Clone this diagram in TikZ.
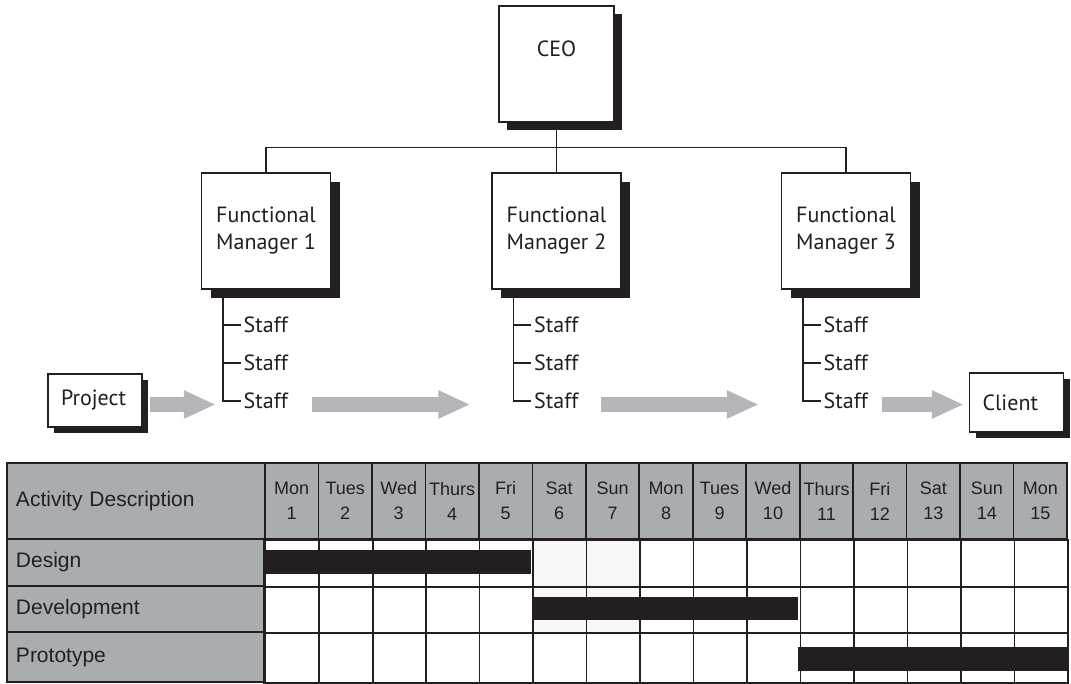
\documentclass[tikz,border=0pt]{standalone}
\usepackage{fontspec}
\setmainfont{PT Sans}
\newfontfamily\tablefont{Liberation Sans}
\usetikzlibrary{arrows.meta,shadows}

\definecolor{inkblack}{RGB}{35,31,32}
\definecolor{headgray}{RGB}{170,173,176}
\definecolor{arrowgray}{RGB}{180,182,185}
\definecolor{weekendfill}{RGB}{247,247,247}

\tikzset{
  boxbase/.style={draw=inkblack, line width=1.2pt, fill=white, text=inkblack,
    inner sep=0pt, font=\fontsize{22pt}{27pt}\selectfont},
  orgbox/.style={boxbase, align=center, minimum width=129pt, minimum height=116pt,
    drop shadow={shadow xshift=#1, shadow yshift=-#1, fill=inkblack, opacity=1}},
  orgbox/.default=9pt,
  endbox/.style={boxbase, text width=68pt, inner xsep=13pt, align=left,
    drop shadow={shadow xshift=6pt, shadow yshift=-6pt, fill=inkblack, opacity=1}},
  staff/.style={anchor=west, inner xsep=3pt, inner ysep=0pt, text=inkblack,
    font=\fontsize{22pt}{25pt}\selectfont},
  orgline/.style={draw=inkblack, line width=1.2pt},
  bigarrow/.style={draw=arrowgray, line width=14.5pt,
    -{Triangle[length=32pt, width=26pt]}},
  headcell/.style={draw=inkblack, line width=1.6pt, fill=headgray, text=inkblack,
    inner sep=0pt},
  rowcell/.style={headcell, minimum width=258pt, text width=240pt, align=left,
    font=\tablefont\fontsize{21pt}{24pt}\selectfont},
  daycell/.style={headcell, minimum width=53.47pt, minimum height=76pt, align=center,
    font=\tablefont\fontsize{18pt}{25pt}\selectfont},
  gridline/.style={draw=inkblack, line width=1.6pt},
  bar/.style={fill=inkblack}
}

\begin{document}
\begin{tikzpicture}[x=1pt,y=-1pt]
\path[use as bounding box, fill=white] (0,0) rectangle (1071,684);

\node[orgbox=8pt, minimum width=115pt, text height=15pt, text depth=29pt] (ceo) at (556.5,64) {CEO};
\node[orgbox] (fm1) at (266,231) {Functional\\Manager 1};
\node[orgbox] (fm2) at (556.5,231) {Functional\\Manager 2};
\node[orgbox] (fm3) at (846,231) {Functional\\Manager 3};

\draw[orgline] (ceo.south) -- (fm2.north);
\draw[orgline] (fm1.north) -- ++(0,-25) -| (fm3.north);

\coordinate (t1) at ([xshift=22pt]fm1.south west);
\coordinate (t2) at ([xshift=22pt]fm2.south west);
\coordinate (t3) at ([xshift=22pt]fm3.south west);
\coordinate (lane) at (0,404.5);

\node[staff] (s11) at (240.5,325) {Staff};
\node[staff] (s12) at (240.5,363) {Staff};
\node[staff] (s13) at (240.5,401) {Staff};
\node[staff] (s21) at (531,325) {Staff};
\node[staff] (s22) at (531,363) {Staff};
\node[staff] (s23) at (531,401) {Staff};
\node[staff] (s31) at (820.5,325) {Staff};
\node[staff] (s32) at (820.5,363) {Staff};
\node[staff] (s33) at (820.5,401) {Staff};

\draw[orgline] (t1) |- (s13.west);
\draw[orgline] (t1 |- s11.west) -- (s11.west);
\draw[orgline] (t1 |- s12.west) -- (s12.west);
\draw[orgline] (t2) |- (s23.west);
\draw[orgline] (t2 |- s21.west) -- (s21.west);
\draw[orgline] (t2 |- s22.west) -- (s22.west);
\draw[orgline] (t3) |- (s33.west);
\draw[orgline] (t3 |- s31.west) -- (s31.west);
\draw[orgline] (t3 |- s32.west) -- (s32.west);

\node[endbox, minimum height=53pt] (project) at (95,400.5) {Project};
\node[endbox, minimum height=59pt] (client) at (1016.5,402.5) {Client};

\draw[bigarrow, shorten <=7pt, shorten >=7pt] (project.east |- lane) -- (t1 |- lane);
\draw[bigarrow, shorten <=89pt, shorten >=43pt] (t1 |- lane) -- (t2 |- lane);
\draw[bigarrow, shorten <=88pt, shorten >=44pt] (t2 |- lane) -- (t3 |- lane);
\draw[bigarrow, shorten <=79pt, shorten >=5pt] (t3 |- lane) -- (client.west |- lane);

\node[rowcell, minimum height=76pt] (act) at (136,501) {Activity Description};
\node[rowcell, minimum height=47pt] (design) at (136,562.5) {Design};
\node[rowcell, minimum height=46pt] (development) at (136,609) {Development};
\node[rowcell, minimum height=50pt] (prototype) at (136,657) {Prototype};

\node[daycell] (d1) at (291.7,501) {Mon\\1};
\node[daycell] (d2) at (345.2,501) {Tues\\2};
\node[daycell] (d3) at (398.7,501) {Wed\\3};
\node[daycell] (d4) at (452.1,501) {Thurs\\4};
\node[daycell] (d5) at (505.6,501) {Fri\\5};
\node[daycell] (d6) at (559.1,501) {Sat\\6};
\node[daycell] (d7) at (612.6,501) {Sun\\7};
\node[daycell] (d8) at (666.0,501) {Mon\\8};
\node[daycell] (d9) at (719.5,501) {Tues\\9};
\node[daycell] (d10) at (773.0,501) {Wed\\10};
\node[daycell] (d11) at (826.5,501) {Thurs\\11};
\node[daycell] (d12) at (879.9,501) {Fri\\12};
\node[daycell] (d13) at (933.4,501) {Sat\\13};
\node[daycell] (d14) at (986.9,501) {Sun\\14};
\node[daycell] (d15) at (1040.3,501) {Mon\\15};

\fill[weekendfill] (d6.south west) rectangle (d7.south east |- development.south);
\draw[gridline] (design.south east) -- (design.south east -| d15.east);
\draw[gridline] (development.south east) -- (development.south east -| d15.east);
\draw[gridline] (d1.south west) rectangle (d15.south east |- prototype.south);
\foreach \k in {1,...,14}
  \draw[gridline] (d\k.south east) -- (d\k.south east |- prototype.south);

\fill[bar] (264,550) rectangle (530.5,573.5);
\fill[bar] (532,597) rectangle (798,620);
\fill[bar] (798,647) rectangle (1068,671);
\end{tikzpicture}
\end{document}
